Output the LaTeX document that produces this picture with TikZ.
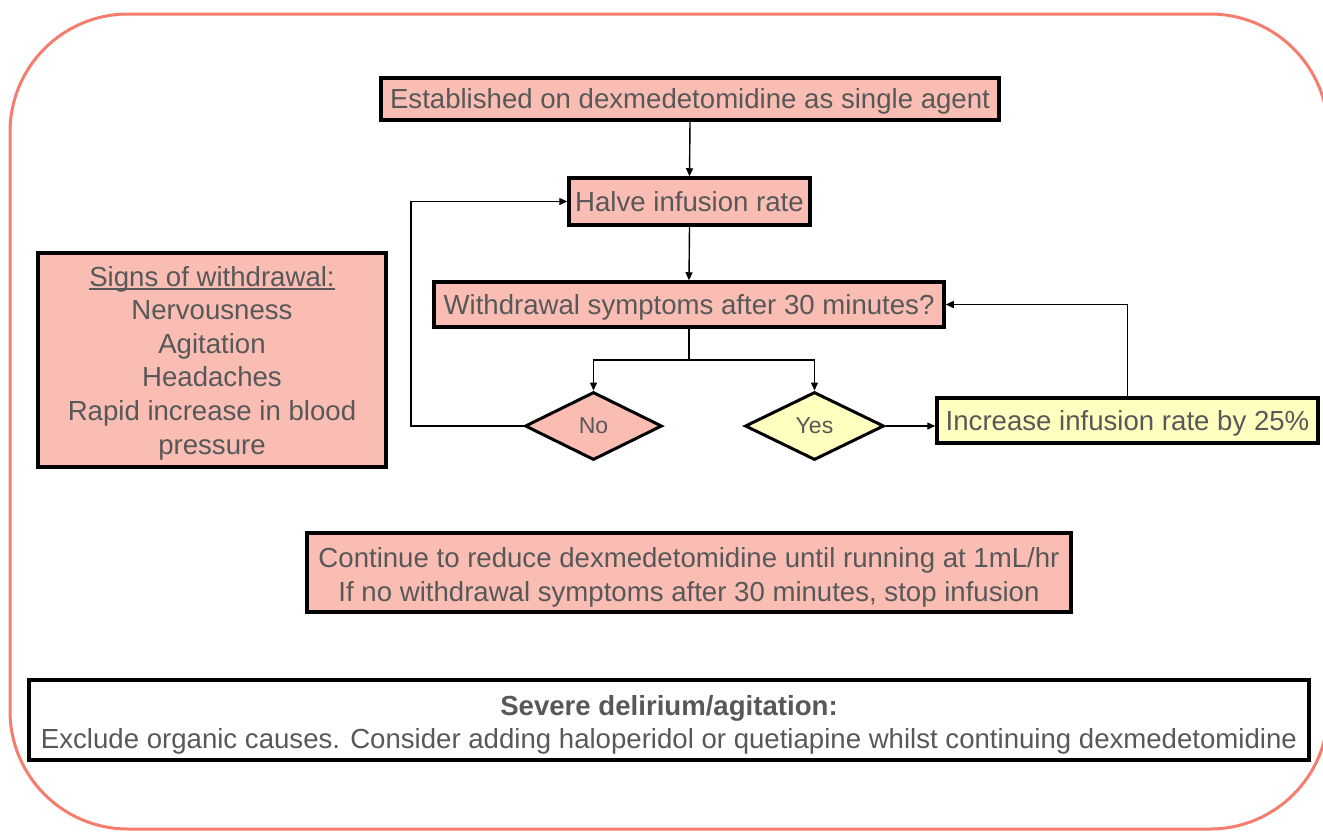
\documentclass[tikz,border=0pt]{standalone}
\usepackage{fontspec}
\setmainfont{Liberation Sans}
\usetikzlibrary{shapes.geometric,arrows.meta}
\definecolor{pinkfill}{RGB}{249,189,180}
\definecolor{yellowfill}{RGB}{255,255,192}
\definecolor{txtgray}{RGB}{88,88,88}
\definecolor{salmon}{RGB}{245,125,110}
\newcommand\myuline[1]{\setbox0\hbox{#1}\rlap{\rule[-3.5pt]{\wd0}{1.5pt}}\box0}
\begin{document}
\begin{tikzpicture}[x=1pt,y=-1pt,
  every node/.style={text=txtgray, font=\fontsize{27.6}{33.4}\selectfont, inner sep=0pt, align=center},
  oneline/.style={text height=25.6pt, text depth=5.8pt},
  pinkbox/.style={draw=black, line width=3.5pt, fill=pinkfill},
  yellowbox/.style={draw=black, line width=3.5pt, fill=yellowfill},
  whitebox/.style={draw=black, line width=3.5pt, fill=white},
  decision/.style={diamond, draw=black, line width=3pt, inner sep=0pt, font=\fontsize{23}{27}\selectfont},
  conn/.style={draw=black, line width=1.4pt},
  arr/.style={conn, -{Triangle[length=8pt,width=7pt]}}
]
\clip (0,0) rectangle (1323,831);
\fill[white] (0,0) rectangle (1323,831);
\draw[salmon, line width=3pt, rounded corners=118pt] (10,14) rectangle (1328,829);

\node[pinkbox, oneline, minimum width=618, minimum height=42] (top) at (690,99) {Established on dexmedetomidine as single agent};
\node[pinkbox, oneline, minimum width=241, minimum height=47] (halve) at (689.5,201.5) {Halve infusion rate};
\node[pinkbox, oneline, minimum width=510, minimum height=45] (wd) at (689,304.5) {Withdrawal symptoms after 30 minutes?};
\node[pinkbox, minimum width=348, minimum height=214] (signs) at (212,360) {};
\node[font=\fontsize{27.6}{33.6}\selectfont] (signsT) at (signs.center) [yshift=-3pt] {\myuline{Signs of withdrawal:}\\Nervousness\\Agitation\\Headaches\\Rapid increase in blood\\pressure};
\node[decision, fill=pinkfill, minimum width=137, minimum height=68] (no) at (593.5,426) {No};
\node[decision, fill=yellowfill, minimum width=139, minimum height=68] (yes) at (814.5,426) {Yes};
\node[yellowbox, oneline, minimum width=381, minimum height=45] (inc) at (1127.5,420.5) {Increase infusion rate by 25\%};
\node[pinkbox, minimum width=764, minimum height=79] (cont) at (689,572.5) {};
\node (contT) at (cont.center) [yshift=-5pt] {Continue to reduce dexmedetomidine until running at 1mL/hr\\If no withdrawal symptoms after 30 minutes, stop infusion};
\node[whitebox, minimum width=1280, minimum height=80] (sev) at (669,720) {};
\node (sevT) at (sev.center) [yshift=-5pt] {\textbf{Severe delirium/agitation:}\\Exclude organic causes. Consider adding haloperidol or quetiapine whilst continuing dexmedetomidine};

\coordinate (sp) at (691,360);
\coordinate (loopx) at (411,0);

\draw[arr] (top.south) -- (halve.north);
\draw[arr] (halve.south) -- (wd.north);
\draw[conn] (wd.south) -- (wd.south |- sp);
\draw[arr] (sp) -| (no.north);
\draw[arr] (sp) -| (yes.north);
\draw[arr] (no.west) -| (loopx |- halve.west) -- (halve.west);
\draw[arr] (yes.east) -- (yes.east -| inc.west);
\draw[arr] (inc.north) |- (wd.east);
\end{tikzpicture}
\end{document}
